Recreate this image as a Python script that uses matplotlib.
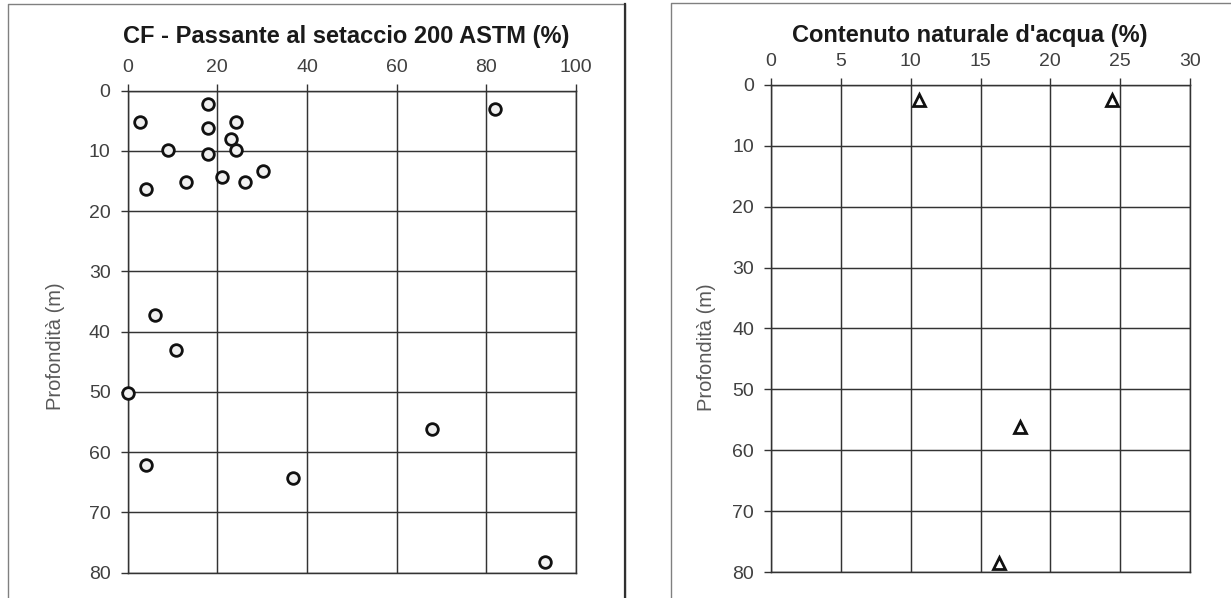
import matplotlib
matplotlib.use("Agg")
import matplotlib.pyplot as plt
from matplotlib.lines import Line2D

plt.rcParams['font.family'] = ['Liberation Sans', 'DejaVu Sans']

# --- Fines content (passing ASTM #200 sieve) vs depth ---
fines_pct = [18.0, 81.9, 2.8, 24.1, 18.0, 23.0, 9.0, 24.1, 18.0, 30.2, 21.1,
             12.9, 26.1, 4.1, 6.0, 10.8, 0.0, 67.8, 4.1, 36.9, 93.0]
fines_depth = [2.2, 3.0, 5.2, 5.2, 6.2, 8.0, 9.9, 9.9, 10.5, 13.3, 14.3,
               15.2, 15.2, 16.3, 37.2, 43.1, 50.2, 56.2, 62.1, 64.3, 78.3]

# --- Natural water content vs depth ---
water_pct = [10.6, 24.4, 17.8, 16.3]
water_depth = [2.5, 2.5, 56.1, 78.4]

fines_ticks = [0, 20, 40, 60, 80, 100]
water_ticks = [0, 5, 10, 15, 20, 25, 30]
depth_ticks = [0, 10, 20, 30, 40, 50, 60, 70, 80]

title_left = "CF - Passante al setaccio 200 ASTM (%)"
title_right = "Contenuto naturale d'acqua (%)"
depth_label = "Profondità (m)"

W, H = 1231, 598
fig = plt.figure(figsize=(W / 100, H / 100), dpi=100)


def px_rect(x0, y0, x1, y1):
    """Pixel box (top-left origin) -> figure fraction [l, b, w, h]."""
    return [x0 / W, 1 - y1 / H, (x1 - x0) / W, (y1 - y0) / H]


grid_col = "#333333"
tick_col = "#404040"


def style_axes(ax, xticks, xmax):
    ax.set_xlim(0, xmax)
    ax.set_ylim(80, 0)
    ax.set_xticks(xticks)
    ax.set_yticks(depth_ticks)
    ax.xaxis.tick_top()
    ax.tick_params(axis='x', which='both', top=True, bottom=False,
                   direction='out', length=4.8, width=1.0, color=grid_col,
                   labelsize=14, labelcolor=tick_col, pad=5.5)
    ax.tick_params(axis='y', which='both', left=True, right=False,
                   direction='out', length=4.8, width=1.0, color=grid_col,
                   labelsize=14, labelcolor=tick_col, pad=7.5)
    ax.grid(True, color=grid_col, linewidth=1.05)
    ax.set_axisbelow(True)
    for sp in ax.spines.values():
        sp.set_color(grid_col)
        sp.set_linewidth(1.05)


ax1 = fig.add_axes(px_rect(127.7, 90.5, 576.0, 572.7))
style_axes(ax1, fines_ticks, 100)
ax1.plot(fines_pct, fines_depth, linestyle='none', marker='o',
         markersize=8.4, markerfacecolor='#f0f0f0',
         markeredgecolor='#111111', markeredgewidth=2.0, clip_on=False,
         zorder=5)

ax2 = fig.add_axes(px_rect(771.0, 84.7, 1190.0, 572.3))
style_axes(ax2, water_ticks, 30)
ax2.plot(water_pct, water_depth, linestyle='none', marker='^',
         markersize=8.8, markerfacecolor='white',
         markeredgecolor='#111111', markeredgewidth=2.0, clip_on=False,
         zorder=5)

# titles
fig.text(346 / W, 1 - 43.5 / H, title_left, ha='center', va='baseline',
         fontsize=17, fontweight='bold', color='#1a1a1a')
fig.text(970 / W, 1 - 42.0 / H, title_right, ha='center', va='baseline',
         fontsize=17, fontweight='bold', color='#1a1a1a')

# depth labels
fig.text(55.3 / W, 1 - 346 / H, depth_label, rotation=90, ha='center',
         va='center', fontsize=14.5, color='#595959')
fig.text(706.5 / W, 1 - 347.5 / H, depth_label, rotation=90, ha='center',
         va='center', fontsize=14.5, color='#595959')

# panel frames
def fig_line(xs, ys, color, lw):
    fig.add_artist(Line2D([x / W for x in xs], [1 - y / H for y in ys],
                          color=color, linewidth=lw,
                          transform=fig.transFigure))

fig_line([8.3, 8.3, 625, 625], [H + 5, 4, 4, H + 5], '#808080', 1.0)
fig_line([625, 625], [4, H + 5], '#303030', 1.6)
fig_line([670.7, 670.7, W + 5], [H + 5, 2.7, 2.7], '#808080', 1.0)

fig.savefig("out.png", dpi=100)
